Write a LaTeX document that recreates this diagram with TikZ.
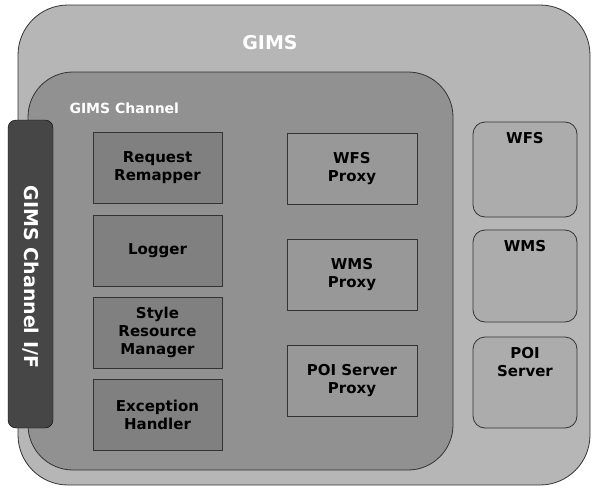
\documentclass[tikz,border=0pt]{standalone}
\usepackage{fontspec}
\setmainfont{DejaVu Sans}
\usetikzlibrary{positioning}
\definecolor{gimsfill}{RGB}{182,182,182}
\definecolor{chanfill}{RGB}{145,145,145}
\definecolor{boxfill}{RGB}{128,128,128}
\definecolor{proxyfill}{RGB}{152,152,152}
\definecolor{srvfill}{RGB}{172,172,172}
\definecolor{barfill}{RGB}{70,70,70}

\tikzset{
  module/.style={draw=black!80, thick, fill=boxfill, minimum width=129, minimum height=71,
                 align=center, font=\fontsize{15}{18}\selectfont\bfseries},
  proxy/.style={module, fill=proxyfill, minimum width=130},
  server/.style={draw=black!80, thick, fill=srvfill, rounded corners=12, minimum width=104},
  title/.style={text=white, font=\bfseries}
}

\begin{document}
\begin{tikzpicture}[x=1pt,y=-1pt]

\useasboundingbox (0,0) rectangle (595,490);

%---------------------------------------
% Containers
%---------------------------------------
\node[draw=black!80, thick, fill=gimsfill, rounded corners=50,
      minimum width=572, minimum height=480] (gims) at (304,245) {};
\node[title, font=\fontsize{19}{21}\selectfont\bfseries] (gimslbl) at (270,43) {GIMS};

\node[draw=black!80, thick, fill=chanfill, rounded corners=45,
      minimum width=425, minimum height=398] (chan) at (240.5,271) {};
\node[title, font=\fontsize{14}{16}\selectfont\bfseries, anchor=west] (chanlbl) at (66,108) {GIMS Channel};

% Channel interface bar
\node[draw=black, fill=barfill, rounded corners=8, minimum width=45, minimum height=308] (bar) at (30.5,274) {};
\node[title, font=\fontsize{19}{21}\selectfont\bfseries, rotate=-90] (barlbl) at (30.5,277) {GIMS Channel I/F};

%---------------------------------------
% Channel modules (left column)
%---------------------------------------
\node[module] (remap)  at (157.5,168) {Request\\Remapper};
\node[module] (logger) at (157.5,251) {Logger};
\node[module] (style)  at (157.5,332.5) {Style\\Resource\\Manager};
\node[module] (except) at (157.5,415) {Exception\\Handler};

%---------------------------------------
% Proxies (middle column)
%---------------------------------------
\node[proxy] (wfsp) at (352,169) {WFS\\Proxy};
\node[proxy] (wmsp) at (352,275) {WMS\\Proxy};
\node[proxy] (poip) at (352,381) {POI Server\\Proxy};

%---------------------------------------
% Servers (right column)
%---------------------------------------
\node[server, minimum height=95] (wfs) at (525,169.5) {};
\node[server, minimum height=92] (wms) at (525,276) {};
\node[server, minimum height=91] (poi) at (525,382.5) {};

\node[font=\fontsize{15}{18}\selectfont\bfseries, below=7pt of wfs.north] (wfslbl) {WFS};
\node[font=\fontsize{15}{18}\selectfont\bfseries, below=7pt of wms.north] (wmslbl) {WMS};
\node[font=\fontsize{15}{18}\selectfont\bfseries, align=center, below=7pt of poi.north] (poilbl) {POI\\Server};

\end{tikzpicture}
\end{document}
